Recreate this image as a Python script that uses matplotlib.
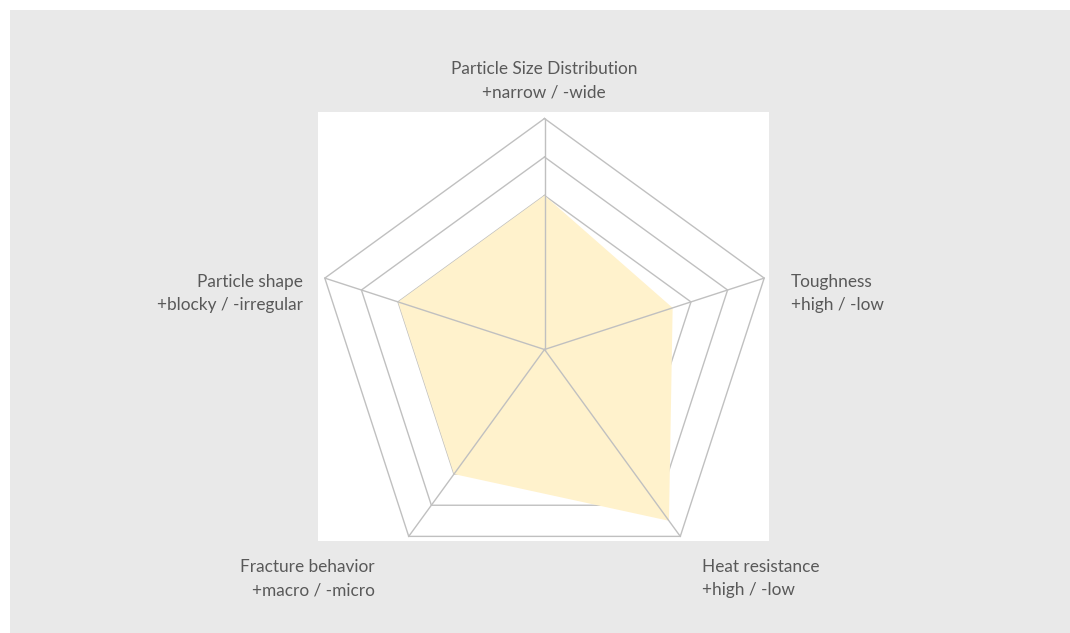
import numpy as np
import matplotlib
matplotlib.use("Agg")
import matplotlib.pyplot as plt
from matplotlib.patches import Rectangle

# ---- data ----
axis_titles = ["Particle Size Distribution", "Toughness", "Heat resistance",
               "Fracture behavior", "Particle shape"]
axis_subtitles = ["+narrow / -wide", "+high / -low", "+high / -low",
                  "+macro / -micro", "+blocky / -irregular"]
values = [4.0, 3.5, 5.5, 4.0, 4.0]
ring_levels = [4, 5, 6]
r_max = 6

W, H = 1070, 633
DPI = 100
fig = plt.figure(figsize=(W / DPI, H / DPI), dpi=DPI, facecolor="white")

def fx(px):
    return px / W

def fy(py):
    return 1 - py / H

# gray panel
fig.patches.append(Rectangle((fx(10), 0), 1 - fx(10), fy(10), transform=fig.transFigure,
                             facecolor="#e9e9e9", edgecolor="none", zorder=-2))
# white plot area
fig.patches.append(Rectangle((fx(318), fy(541)), fx(769) - fx(318), fy(112) - fy(541),
                             transform=fig.transFigure, facecolor="white",
                             edgecolor="none", zorder=-1))

# radar axes: center (544.5, 349.5) px, radius 231 px for r_max
cx, cy, R = 544.5, 349.5, 231.0
half = 240.0
ax = fig.add_axes([fx(cx - half), fy(cy + half), 2 * half / W, 2 * half / H])
ax.set_xlim(-r_max * half / R, r_max * half / R)
ax.set_ylim(-r_max * half / R, r_max * half / R)
ax.axis("off")
ax.patch.set_alpha(0)

n = len(values)
theta = np.pi / 2 - 2 * np.pi * np.arange(n) / n
ct = np.append(np.cos(theta), np.cos(theta[0]))
st = np.append(np.sin(theta), np.sin(theta[0]))

line_col = "#c0c0c0"
for lvl in ring_levels:
    ax.plot(lvl * ct, lvl * st, color=line_col, lw=1.0, zorder=1, solid_joinstyle="miter")

vals = np.append(values, values[0])
ax.fill(vals * ct, vals * st, color="#fff2cc", edgecolor="none", zorder=2)

for c, s in zip(np.cos(theta), np.sin(theta)):
    ax.plot([0, r_max * c], [0, r_max * s], color=line_col, lw=1.0, zorder=3)

# labels
txt_col = "#595959"
fs = 12.4
font = "Lato"
label_pos = [  # (x, baseline1, baseline2, ha)
    (544, 74, 97, "center"),
    (791, 287, 310, "left"),
    (702, 572, 595, "left"),
    (375, 572, 595, "right"),
    (303, 287, 310, "right"),
]
for (x, b1, b2, ha), t1, t2 in zip(label_pos, axis_titles, axis_subtitles):
    fig.text(fx(x), fy(b1), t1, ha=ha, va="baseline", fontsize=fs, color=txt_col, family=font)
    fig.text(fx(x), fy(b2), t2, ha=ha, va="baseline", fontsize=fs, color=txt_col, family=font)

fig.savefig("out.png", dpi=DPI, facecolor=fig.get_facecolor())
